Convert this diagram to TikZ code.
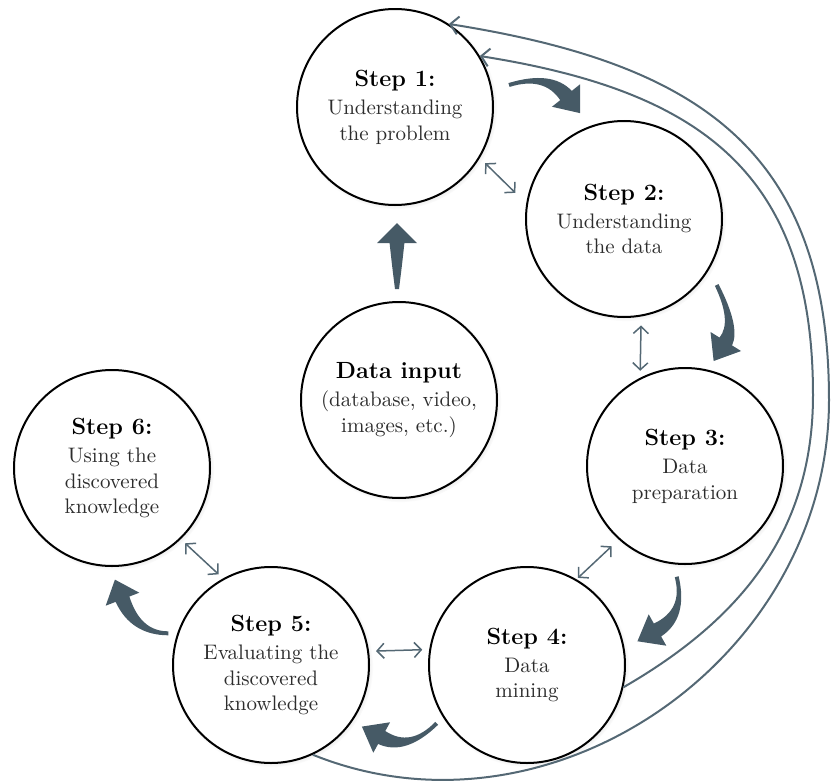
\documentclass[tikz,border=0pt]{standalone}
\usetikzlibrary{calc,arrows.meta,shadows}

\definecolor{slate}{RGB}{70,90,102}
\definecolor{linkgray}{RGB}{84,104,116}
\definecolor{bodytext}{RGB}{45,45,45}

% bold heading inside a stage circle
\newcommand\stagetitle[1]{{\fontsize{11.7}{14}\selectfont\bfseries\color{black}#1}}

% curved block arrow: #1 tail, #2 bend control, #3 centre of the head base,
% #4 half width of the head, #5 head length
\newcommand\blockarrow[5]{%
  \path ($(#1)!1pt!90:(#2)$)    coordinate (bA)
        ($(#1)!1pt!-90:(#2)$)   coordinate (bB)
        ($(#2)!2.5pt!90:(#3)$)  coordinate (bC)
        ($(#2)!2.5pt!-90:(#3)$) coordinate (bD)
        ($(#3)!3.7pt!-90:(#2)$) coordinate (bE)
        ($(#3)!3.7pt!90:(#2)$)  coordinate (bF);
  \fill[blockfill]
    (bA) .. controls ($(bA)!2/3!(bC)$) and ($(bE)!2/3!(bC)$) .. (bE)
    -- ($(#3)!#4!-90:(#2)$) -- ($(#3)!-#5!(#2)$) -- ($(#3)!#4!90:(#2)$)
    -- (bF) .. controls ($(bF)!2/3!(bD)$) and ($(bB)!2/3!(bD)$) .. (bB)
    -- cycle;}

\begin{document}
\begin{tikzpicture}[x=0.5pt,y=-0.5pt,
  stage/.style={circle, draw=black, line width=1pt, fill=white,
    minimum size=98pt, inner sep=0pt, align=center,
    font=\fontsize{10.5}{12.7}\selectfont, text=bodytext,
    circular drop shadow={shadow xshift=0.6pt, shadow yshift=-0.6pt,
      shadow scale=1.03, opacity=0.4}},
  link/.style={draw=linkgray, line width=0.75pt,
    {Straight Barb[length=3.5pt,width=7.5pt]}-{Straight Barb[length=3.5pt,width=7.5pt]}},
  feedback/.style={draw=linkgray, line width=1pt,
    -{Straight Barb[length=4pt,width=9pt]}},
  blockfill/.style={fill=slate}]

\useasboundingbox (0,0) rectangle (831,782);

% the process stages
\node[stage] (s1)  at (395,107) {\stagetitle{Step 1:}\\[1.5pt]Understanding\\the problem};
\node[stage] (s2)  at (624,219) {\stagetitle{Step 2:}\\[1.5pt]Understanding\\the data};
\node[stage] (s3)  at (685,466) {\stagetitle{Step 3:}\\[1.5pt]Data\\preparation};
\node[stage] (s4)  at (527,665) {\stagetitle{Step 4:}\\[1.5pt]Data\\mining};
\node[stage] (s5)  at (271,665) {\stagetitle{Step 5:}\\[1.5pt]Evaluating the\\discovered\\knowledge};
\node[stage] (s6)  at (112,468) {\stagetitle{Step 6:}\\[1.5pt]Using the\\discovered\\knowledge};
\node[stage] (din) at (399,400) {\stagetitle{Data input}\\[1.5pt](database, video,\\images, etc.)};

% two-way links between neighbouring stages
\draw[link, shorten <=3.7pt, shorten >=7.6pt] (s1.-31.7) -- (s2.171.4);
\draw[link, shorten <=4.5pt, shorten >=3.5pt] (s2.-80.6) -- (s3.117.6);
\draw[link, shorten <=4.9pt, shorten >=1pt]   (s3.-132.3) -- (s4.60);
\draw[link, shorten <=3.5pt, shorten >=3.5pt] (s5.8.5) -- (s4.171.5);
\draw[link, shorten <=3pt, shorten >=3pt]     (s6.-46) -- (s5.119.4);

% feedback loops back to the first step
\coordinate (innerR) at (813,395);
\coordinate (outerR) at (829,400);
\draw[feedback] (s4.-13) to[out=30,in=-90] (innerR)
  to[out=90,in=-9,looseness=1.2] (s1.31);
\draw[feedback] (s5.-65) to[out=-22,in=-90,looseness=1.05] (outerR)
  to[out=90,in=-9,looseness=1.2] (s1.57);

% block arrows showing the main flow
\coordinate (a1t) at (509,85);    \coordinate (a1c) at (548,73);    \coordinate (a1b) at (566,95.5);
\coordinate (a2t) at (716.7,285); \coordinate (a2c) at (736.4,324.5); \coordinate (a2b) at (725.8,341.5);
\coordinate (a3t) at (676.7,576.7); \coordinate (a3c) at (686,614); \coordinate (a3b) at (657.5,630);
\coordinate (a4t) at (436.7,723.3); \coordinate (a4c) at (408,752); \coordinate (a4b) at (381.7,737.5);
\coordinate (a5t) at (168.3,633.3); \coordinate (a5c) at (135.7,633.3); \coordinate (a5b) at (122.5,599.2);
\coordinate (a6t) at (397,289);   \coordinate (a6c) at (397,266);   \coordinate (a6b) at (397,243);
\blockarrow{a1t}{a1c}{a1b}{9pt}{11.3pt}
\blockarrow{a2t}{a2c}{a2b}{9pt}{11.5pt}
\blockarrow{a3t}{a3c}{a3b}{9pt}{11.5pt}
\blockarrow{a4t}{a4c}{a4b}{8.7pt}{11.3pt}
\blockarrow{a5t}{a5c}{a5b}{9pt}{10.5pt}
\blockarrow{a6t}{a6c}{a6b}{10pt}{10pt}
\end{tikzpicture}
\end{document}
